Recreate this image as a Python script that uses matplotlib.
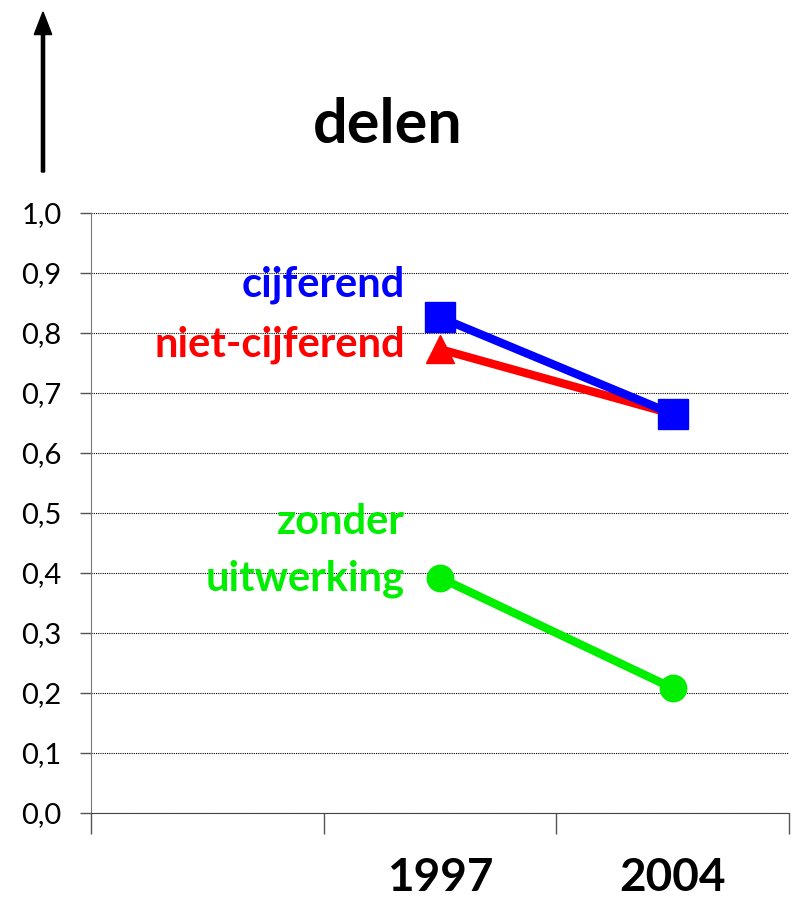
import numpy as np
import matplotlib.pyplot as plt

plt.rcParams['font.family'] = ['Lato', 'DejaVu Sans']

categories = ["", "1997", "2004"]
cijferend = [np.nan, 0.826, 0.665]
niet_cijferend = [np.nan, 0.773, 0.665]
zonder_uitwerking = [np.nan, 0.392, 0.208]
yticks = [0.0, 0.1, 0.2, 0.3, 0.4, 0.5, 0.6, 0.7, 0.8, 0.9, 1.0]

fig = plt.figure(figsize=(7.92, 9.01), dpi=100)
ax = fig.add_axes([0.1149, 0.0977, 0.8813, 0.6659])

x = np.arange(len(categories))
ax.plot(x, niet_cijferend, color="#ff0000", lw=6, marker="^", ms=20, zorder=3)
ax.plot(x, cijferend, color="#0000ff", lw=6, marker="s", ms=22, zorder=4)
ax.plot(x, zonder_uitwerking, color="#00ee00", lw=6, marker="o", ms=19, zorder=3)

ax.set_xlim(-0.5, 2.5)
ax.set_ylim(0, 1.0)
ax.set_yticks(yticks)
ax.set_yticklabels([f"{v:.1f}".replace(".", ",") for v in yticks], fontsize=21)
ax.yaxis.grid(True, color="black", linestyle=(0, (1, 1)), lw=0.8)
ax.set_axisbelow(True)

# category boundaries as ticks, labels sit underneath in bold
ax.set_xticks([-0.5, 0.5, 1.5, 2.5])
ax.set_xticklabels([])
ax.set_xticks(x, minor=True)
ax.set_xticklabels(categories, minor=True, fontsize=33, fontweight="bold")
ax.tick_params(axis="x", which="major", length=15, width=1, color="#555555", direction="out")
ax.tick_params(axis="x", which="minor", length=0, pad=32)
ax.tick_params(axis="y", length=8, width=1, color="#555555", pad=13)

for s in ["top", "right"]:
    ax.spines[s].set_visible(False)
ax.spines["left"].set_color("#777777")
ax.spines["bottom"].set_color("#444444")

lx = 1 - 0.15
lab = dict(fontsize=30, fontweight="bold", ha="right", va="center")
ax.text(lx, 0.88, "cijferend", color="#0000ff", **lab)
ax.text(lx, 0.78, "niet-cijferend", color="#ff0000", **lab)
ax.text(lx, 0.485, "zonder", color="#00ee00", **lab)
ax.text(lx, 0.39, "uitwerking", color="#00ee00", **lab)

fig.text(0.49, 0.861, "delen", fontsize=44, fontweight="bold", ha="center", va="center")
fig.patches.append(plt.matplotlib.patches.FancyArrow(
    43 / 792, 1 - 172 / 901, 0, (172 - 12) / 901, width=0.004, head_width=0.022,
    head_length=0.025, length_includes_head=True, color="black", transform=fig.transFigure))

fig.savefig("out.png", dpi=100)
